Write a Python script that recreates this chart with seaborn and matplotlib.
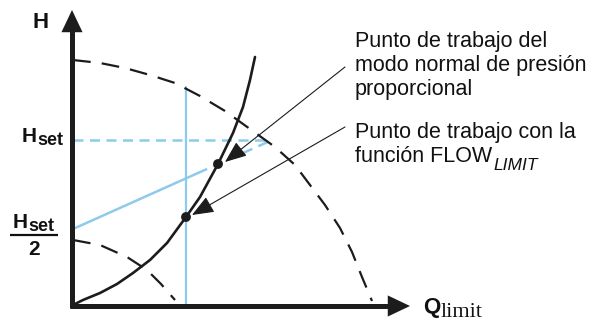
import matplotlib
matplotlib.use("Agg")
import matplotlib.pyplot as plt
import seaborn as sns
import pandas as pd

# ---------------- data (Q = flow, H = head; schematic units) ----------------
pump_max_q = [0, 27, 52, 77, 102, 127, 152, 177, 202, 222, 237, 252, 267, 279, 289, 299]
pump_max_h = [245, 242, 237, 230, 222, 209, 194, 176, 158, 140, 120, 100, 77, 53, 28, 4]

pump_min_q = [0, 27, 54, 74, 88, 102]
pump_min_h = [65, 60, 48, 35, 21, 5]

system_q = [0, 10, 27, 44, 60, 77, 94, 113, 127, 145, 160, 170, 177, 182]
system_h = [0, 5, 12, 21, 32, 45, 62, 88, 108, 141, 172, 198, 225, 248]

q_limit_line_q = [113, 113]
q_limit_line_h = [0, 218]

h_set_line_q = [0, 197]
h_set_line_h = [165, 165]

prop_solid_q = [0, 125]
prop_solid_h = [76, 132]
prop_dash_q = [125, 197]
prop_dash_h = [132, 164]

points_q = [145, 113]
points_h = [141, 88]

pointer_start_q = [272, 272]
pointer_start_h = [238, 178]
pointer_end_q = [152, 119]
pointer_end_h = [143, 90]

label_normal = ["Punto de trabajo del", "modo normal de presión", "proporcional"]
label_limit = ["Punto de trabajo con la", "función FLOW"]
label_limit_sub = "LIMIT"

# ---------------- style ----------------
sns.set_theme(style="white")
plt.rcParams["font.family"] = ["Liberation Sans", "DejaVu Sans"]
BLACK = "#1c1c1c"
BLUE = "#8ecaec"

fig = plt.figure(figsize=(5.97, 3.22), dpi=100)
ax = fig.add_axes([0, 0, 1, 1])
ax.set_xlim(-73, 524)
ax.set_ylim(-17, 305)
ax.axis("off")

# blue guide lines
sns.lineplot(x=q_limit_line_q, y=q_limit_line_h, ax=ax, color=BLUE, lw=1.6,
             sort=False, estimator=None)
sns.lineplot(x=h_set_line_q, y=h_set_line_h, ax=ax, color=BLUE, lw=1.8,
             linestyle=(0, (4, 2.6)), sort=False, estimator=None)
sns.lineplot(x=prop_solid_q, y=prop_solid_h, ax=ax, color=BLUE, lw=1.8,
             sort=False, estimator=None)
sns.lineplot(x=prop_dash_q, y=prop_dash_h, ax=ax, color=BLUE, lw=1.8,
             linestyle=(0, (4, 2.6)), sort=False, estimator=None)

# pump curves (dashed)
sns.lineplot(x=pump_max_q, y=pump_max_h, ax=ax, color=BLACK, lw=1.6,
             linestyle=(0, (8, 5)), sort=False, estimator=None)
sns.lineplot(x=pump_min_q, y=pump_min_h, ax=ax, color=BLACK, lw=1.6,
             linestyle=(0, (8, 5)), sort=False, estimator=None)

# system curve
sns.lineplot(x=system_q, y=system_h, ax=ax, color=BLACK, lw=1.9,
             sort=False, estimator=None)

# working points
sns.scatterplot(x=points_q, y=points_h, ax=ax, color=BLACK, s=50,
                edgecolor="none", zorder=5)

# pointers
for q0, h0, q1, h1 in zip(pointer_start_q, pointer_start_h, pointer_end_q, pointer_end_h):
    ax.annotate("", xy=(q1, h1), xytext=(q0, h0),
                arrowprops=dict(arrowstyle="-|>,head_length=0.75,head_width=0.3",
                                mutation_scale=18, lw=0.8, color=BLACK,
                                shrinkA=0, shrinkB=0), zorder=6)

# axes with arrows
ax.plot([-1, -1], [-3, 274], color=BLACK, lw=3.6, solid_capstyle="butt")
ax.plot([-3, 318], [-1, -1], color=BLACK, lw=3.6, solid_capstyle="butt")
ax.annotate("", xy=(-1, 295), xytext=(-1, 270),
            arrowprops=dict(arrowstyle="-|>,head_length=0.8,head_width=0.38",
                            mutation_scale=20, lw=0, fc=BLACK, ec=BLACK,
                            shrinkA=0, shrinkB=0))
ax.annotate("", xy=(337, -1), xytext=(312, -1),
            arrowprops=dict(arrowstyle="-|>,head_length=0.8,head_width=0.38",
                            mutation_scale=20, lw=0, fc=BLACK, ec=BLACK,
                            shrinkA=0, shrinkB=0))

# ---------------- text ----------------
fig.canvas.draw()
r = fig.canvas.get_renderer()


def after(t, s, gap, base_h, **kw):
    bb = t.get_window_extent(r)
    xd = ax.transData.inverted().transform((bb.x1 + gap, 0))[0]
    return ax.text(xd, base_h, s, va="baseline", ha="left", **kw)


TXT = "#111111"
for s, h in zip(label_normal, [258, 234, 210]):
    ax.text(282, h, s, fontsize=15.5, color=TXT, va="baseline", ha="left")
for s, h in zip(label_limit, [167, 143]):
    t = ax.text(282, h, s, fontsize=15.5, color=TXT, va="baseline", ha="left")
after(t, label_limit_sub, 1, 135, fontsize=12.5, style="italic", color=TXT)

# axis label H
ax.text(-41, 277, "H", fontsize=16, fontweight="bold", color=TXT, va="baseline", ha="left")

# H_set
t = ax.text(-51, 163, "H", fontsize=15, fontweight="bold", color=TXT, va="baseline", ha="left")
after(t, "set", 0.5, 160, fontsize=13, fontweight="bold", color=TXT)

# H_set / 2
t = ax.text(-60, 77, "H", fontsize=15, fontweight="bold", color=TXT, va="baseline", ha="left")
after(t, "set", 0.5, 74, fontsize=13, fontweight="bold", color=TXT)
ax.plot([-63, -15], [70, 70], color=TXT, lw=1.6, solid_capstyle="butt")
ax.text(-39, 50, "2", fontsize=15, fontweight="bold", color=TXT, va="baseline", ha="center")

# Q_limit
t = ax.text(350, -8, "Q", fontsize=16, fontweight="bold", color=TXT, va="baseline", ha="left")
after(t, "limit", 0.5, -12, fontsize=16, color=TXT, family="Liberation Serif")

fig.savefig("out.png", dpi=100)
